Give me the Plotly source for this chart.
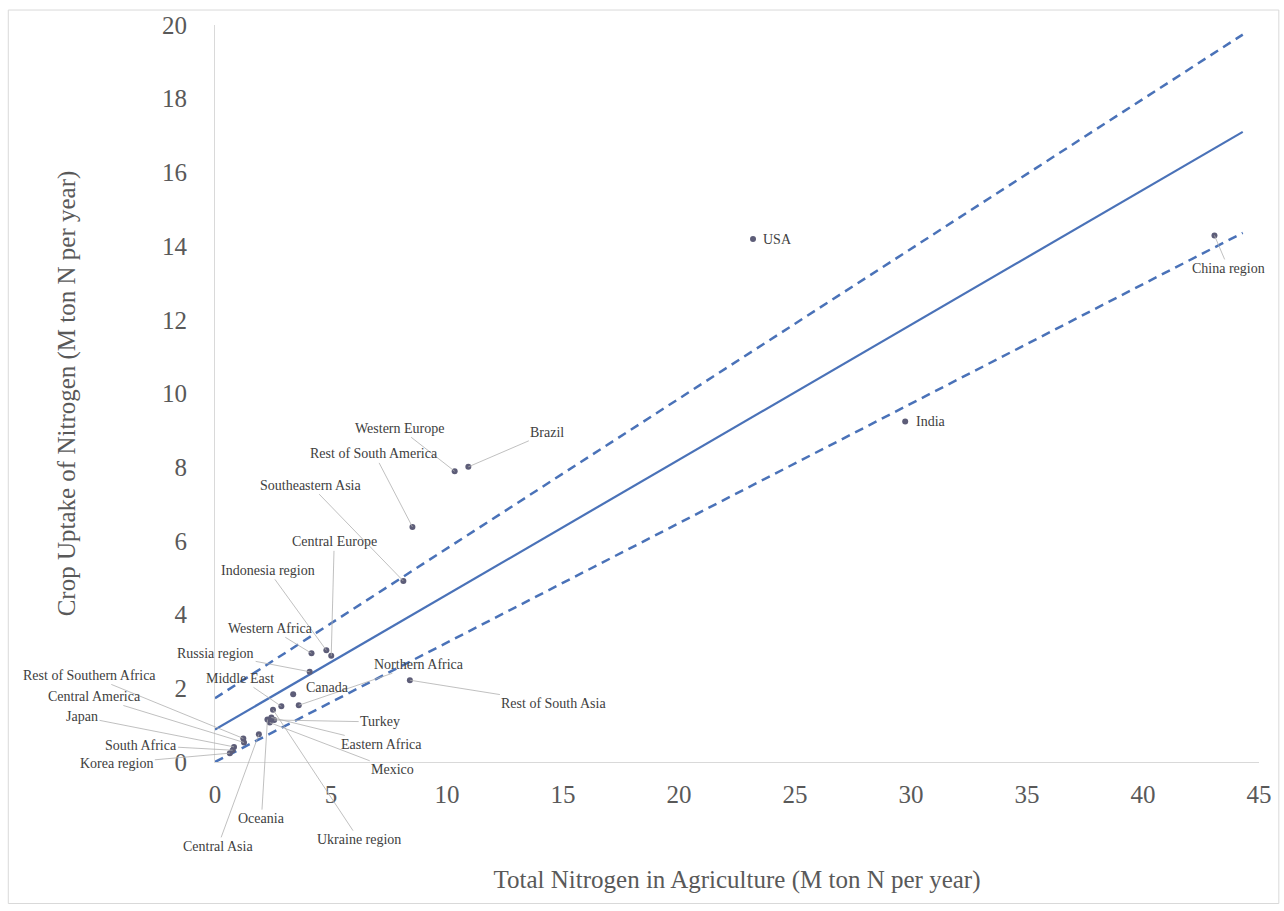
import plotly.graph_objects as go

# Regional nitrogen balance: total N input vs. crop uptake (M ton N per year)
regions = ["USA", "China region", "India", "Western Europe", "Brazil",
           "Rest of South America", "Southeastern Asia", "Central Europe",
           "Indonesia region", "Western Africa", "Russia region", "Northern Africa",
           "Rest of South Asia", "Canada", "Middle East", "Turkey", "Eastern Africa",
           "Mexico", "Ukraine region", "Oceania", "Central Asia",
           "Rest of Southern Africa", "Central America", "Japan", "South Africa",
           "Korea region"]
total_n = [23.19, 43.08, 29.75, 10.33, 10.92, 8.51, 8.12, 5.01, 4.80, 4.16, 4.08,
           3.61, 8.40, 3.37, 2.86, 2.55, 2.43, 2.36, 2.50, 2.26, 1.89, 1.22, 1.25,
           0.82, 0.76, 0.64]
crop_uptake = [14.19, 14.29, 9.24, 7.89, 8.01, 6.38, 4.91, 2.88, 3.03, 2.95, 2.45,
               1.54, 2.22, 1.84, 1.51, 1.14, 1.21, 1.07, 1.42, 1.15, 0.75, 0.64, 0.53,
               0.41, 0.32, 0.24]

# Regression line and its band
fit_x = [0, 44.3]
fit_mid = [0.88, 17.1]
fit_upper = [1.73, 19.74]
fit_lower = [0.0, 14.36]

x_ticks = [0, 5, 10, 15, 20, 25, 30, 35, 40, 45]
y_ticks = [0, 2, 4, 6, 8, 10, 12, 14, 16, 18, 20]

SERIF = "Liberation Serif, Times New Roman, serif"
LINE_BLUE = "#4a72b8"

fig = go.Figure()
fig.add_trace(go.Scatter(x=fit_x, y=fit_upper, mode="lines",
                         line=dict(color=LINE_BLUE, width=2.5, dash="9px,6px"),
                         hoverinfo="skip", showlegend=False))
fig.add_trace(go.Scatter(x=fit_x, y=fit_lower, mode="lines",
                         line=dict(color=LINE_BLUE, width=2.5, dash="9px,6px"),
                         hoverinfo="skip", showlegend=False))
fig.add_trace(go.Scatter(x=fit_x, y=fit_mid, mode="lines",
                         line=dict(color=LINE_BLUE, width=2.2),
                         hoverinfo="skip", showlegend=False))
fig.add_trace(go.Scatter(x=total_n, y=crop_uptake, mode="markers", text=regions,
                         marker=dict(color="#5d5d78", size=6),
                         cliponaxis=False, showlegend=False))

# Label placement: (dx, dy) pixel offset of label centre from its point;
# None means the label sits beside the point with no leader line.
label_offsets = {
    "USA": None, "India": None, "Canada": None,
    "China region": (14, 33),
    "Western Europe": (-55, -43),
    "Brazil": (79, -34),
    "Rest of South America": (-38, -73),
    "Southeastern Asia": (-93, -96),
    "Central Europe": (3, -114),
    "Indonesia region": (-58, -80),
    "Western Africa": (-41, -25),
    "Russia region": (-94, -18),
    "Northern Africa": (120, -41),
    "Rest of South Asia": (144, 23),
    "Middle East": (-41, -28),
    "Turkey": (106, 2),
    "Eastern Africa": (110, 27),
    "Mexico": (123, 47),
    "Ukraine region": (86, 130),
    "Oceania": (-6, 99),
    "Central Asia": (-41, 112),
    "Rest of Southern Africa": (-154, -63),
    "Central America": (-150, -46),
    "Japan": (-152, -30),
    "South Africa": (-92, -5),
    "Korea region": (-113, 10),
}
side_shift = {"USA": (8, 0), "India": (9, 0), "Canada": (11, 7)}

label_font = dict(family=SERIF, size=14, color="#404040")
for name, xv, yv in zip(regions, total_n, crop_uptake):
    off = label_offsets[name]
    if off is None:
        sx, sy = side_shift[name]
        fig.add_annotation(x=xv, y=yv, text=name, showarrow=False,
                           xanchor="left", yanchor="middle",
                           xshift=sx, yshift=sy, font=label_font)
    else:
        fig.add_annotation(x=xv, y=yv, text=name, showarrow=True,
                           ax=off[0], ay=off[1], arrowhead=0,
                           arrowcolor="#b0b0b0", arrowwidth=0.8,
                           standoff=0, font=label_font)

# Outer chart frame
fig.add_shape(type="rect", xref="paper", yref="paper",
              x0=-0.198, x1=1.019, y0=-0.192, y1=1.0203,
              line=dict(color="#d9d9d9", width=1), fillcolor="rgba(0,0,0,0)",
              layer="below")

fig.update_layout(
    width=1284, height=911,
    margin=dict(l=215, r=21, t=22, b=149),
    paper_bgcolor="white", plot_bgcolor="white",
    font=dict(family=SERIF, color="#595959"),
    xaxis=dict(range=[0, 45], tickvals=x_ticks, showgrid=False, zeroline=False,
               showline=True, linecolor="#d9d9d9", linewidth=1.2, ticks="",
               tickfont=dict(family=SERIF, size=25, color="#595959"),
               ticklabelstandoff=10,
               title=dict(text="Total Nitrogen in Agriculture (M ton N per year)",
                          font=dict(family=SERIF, size=25, color="#595959"),
                          standoff=63)),
    yaxis=dict(range=[0, 20], tickvals=y_ticks, showgrid=False, zeroline=False,
               showline=True, linecolor="#d9d9d9", linewidth=1.2, ticks="",
               tickfont=dict(family=SERIF, size=25, color="#595959"),
               ticklabelstandoff=22,
               title=dict(text="Crop Uptake of Nitrogen (M ton N per year)",
                          font=dict(family=SERIF, size=25, color="#595959"),
                          standoff=79)),
)

fig.write_html("out.html")
